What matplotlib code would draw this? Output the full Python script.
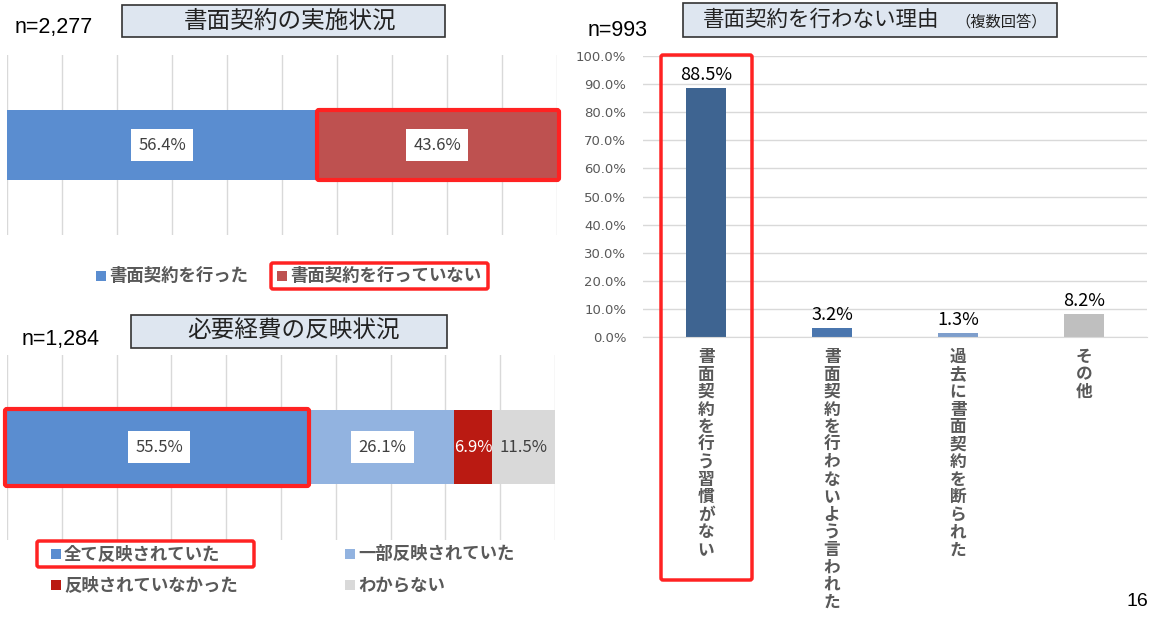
import matplotlib
matplotlib.use("Agg")
import matplotlib.pyplot as plt
from matplotlib.patches import Rectangle, FancyBboxPatch

plt.rcParams['font.family'] = ['Noto Sans CJK JP', 'DejaVu Sans']

# ---------------- data ----------------
top_title = "書面契約の実施状況"
top_n = "n=2,277"
top_labels = ["書面契約を行った", "書面契約を行っていない"]
top_values = [56.4, 43.6]
top_colors = ["#5A8DD0", "#BE5150"]

bot_title = "必要経費の反映状況"
bot_n = "n=1,284"
bot_labels = ["全て反映されていた", "一部反映されていた", "反映されていなかった", "わからない"]
bot_values = [55.5, 26.1, 6.9, 11.5]
bot_colors = ["#5A8DD0", "#92B3E0", "#BA1A12", "#D9D9D9"]

right_title = "書面契約を行わない理由"
right_title_sub = "（複数回答）"
right_n = "n=993"
right_cats = ["書面契約を行う習慣がない", "書面契約を行わないよう言われた",
              "過去に書面契約を断られた", "その他"]
right_values = [88.5, 3.2, 1.3, 8.2]
right_colors = ["#3E6491", "#4A76AE", "#7E9ECC", "#BFBFBF"]
right_yticks = [0, 10, 20, 30, 40, 50, 60, 70, 80, 90, 100]

page_number = "16"

W, H = 1154, 618
fig = plt.figure(figsize=(W / 100, H / 100), dpi=100)

def fbox(x0, y0, x1, y1):
    # pixel box -> figure fraction [left, bottom, width, height]
    return [x0 / W, 1 - y1 / H, (x1 - x0) / W, (y1 - y0) / H]

GRID = "#D9D9D9"
TXT = "#595959"

def stacked_bar(ax, values, colors, label_style, bar_h):
    left = 0
    for i, (v, c) in enumerate(zip(values, colors)):
        ax.barh(0, v, left=left, height=bar_h, color=c, zorder=2)
        color, boxed = label_style[i]
        bbox = dict(boxstyle="square,pad=0.45", fc="white", ec="none") if boxed else None
        ax.text(left + v / 2, 0, f"{v:.1f}%", ha="center", va="center",
                fontsize=12, color=color, zorder=4, bbox=bbox)
        left += v
    ax.set_xlim(0, 100)
    ax.set_ylim(-0.5, 0.5)
    ax.set_xticks(range(0, 101, 10))
    ax.set_yticks([])
    ax.xaxis.grid(True, color=GRID, lw=1, zorder=0)
    ax.tick_params(axis="x", length=0, labelbottom=False)
    for s in ax.spines.values():
        s.set_visible(False)

# ---- top-left chart ----
ax1 = fig.add_axes(fbox(7, 55, 557, 235))
stacked_bar(ax1, top_values, top_colors, [("#404040", True), ("#404040", True)], 0.39)

# ---- bottom-left chart ----
ax2 = fig.add_axes(fbox(7, 355, 555, 540))
stacked_bar(ax2, bot_values, bot_colors,
            [("#404040", True), ("#404040", True), ("white", False), ("#404040", False)], 0.40)

# ---- right chart ----
ax3 = fig.add_axes(fbox(643, 56, 1147, 337))
xs = list(range(len(right_values)))
ax3.bar(xs, right_values, width=0.32, color=right_colors, zorder=2)
for x, v in zip(xs, right_values):
    ax3.text(x, v + 1.5, f"{v:.1f}%", ha="center", va="bottom", fontsize=13, color="black")
ax3.set_xlim(-0.5, 3.5)
ax3.set_ylim(0, 100)
ax3.set_yticks(right_yticks)
ax3.set_yticklabels([f"{t:.1f}%" for t in right_yticks], fontsize=9.5, color=TXT,
                    family=["DejaVu Sans"])
ax3.yaxis.grid(True, color=GRID, lw=1, zorder=0)
ax3.set_xticks(xs)
ax3.set_xticklabels(["\n".join(c) for c in right_cats], fontsize=12, color=TXT,
                    fontweight="bold", va="top", linespacing=0.965)
ax3.tick_params(axis="x", length=0, pad=8)
ax3.tick_params(axis="y", length=0, pad=12)
for k, s in ax3.spines.items():
    if k == "bottom":
        s.set_color(GRID)
    else:
        s.set_visible(False)

# ---------------- overlay ----------------
ov = fig.add_axes([0, 0, 1, 1], zorder=10)
ov.set_xlim(0, W)
ov.set_ylim(H, 0)
ov.axis("off")
ov.patch.set_alpha(0)

def title_box(x0, y0, x1, y1):
    ov.add_patch(Rectangle((x0, y0), x1 - x0, y1 - y0, fc="#DEE6F0", ec="#333333", lw=1.2))

def red_box(x0, y0, x1, y1, lw=2.5):
    ov.add_patch(FancyBboxPatch((x0, y0), x1 - x0, y1 - y0,
                                boxstyle="round,pad=0,rounding_size=2",
                                fc="none", ec="#FF2222", lw=lw))

# titles
title_box(122, 5, 445, 37)
ov.text(290, 21, top_title, ha="center", va="center", fontsize=17, color="#222222")
ov.text(15, 27, top_n, ha="left", va="center", fontsize=15.5, color="black",
        family=["Liberation Sans"])

title_box(131, 315, 447, 348)
ov.text(294, 331, bot_title, ha="center", va="center", fontsize=17, color="#222222")
ov.text(22, 339, bot_n, ha="left", va="center", fontsize=15.5, color="black",
        family=["Liberation Sans"])

title_box(683, 3, 1057, 37)
ov.text(703, 20, right_title, ha="left", va="center", fontsize=15.5, color="#222222")
ov.text(955, 22, right_title_sub, ha="left", va="center", fontsize=11, color="#222222")
ov.text(588, 30, right_n, ha="left", va="center", fontsize=15.5, color="black",
        family=["Liberation Sans"])

# legends
def legend_item(x, y, color, label):
    ov.add_patch(Rectangle((x - 5, y - 5), 10, 10, fc=color, ec="none"))
    ov.text(x + 8, y, label, ha="left", va="center", fontsize=12.5,
            fontweight="bold", color=TXT)

legend_item(101, 276, top_colors[0], top_labels[0])
legend_item(282, 276, top_colors[1], top_labels[1])
red_box(271, 263, 488, 289)

legend_item(56, 554, bot_colors[0], bot_labels[0])
legend_item(350, 554, bot_colors[1], bot_labels[1])
legend_item(56, 585, bot_colors[2], bot_labels[2])
legend_item(350, 585, bot_colors[3], bot_labels[3])
red_box(37, 541, 254, 567)

# highlight boxes on bars
red_box(317, 110, 559, 180, lw=3)
red_box(5, 409, 309, 486, lw=3)
red_box(661, 55, 752, 580, lw=2.5)

# page number
ov.text(1137, 601, page_number, ha="center", va="center", fontsize=14, color="black",
        family=["Liberation Sans"])

fig.savefig("out.png", dpi=100)
